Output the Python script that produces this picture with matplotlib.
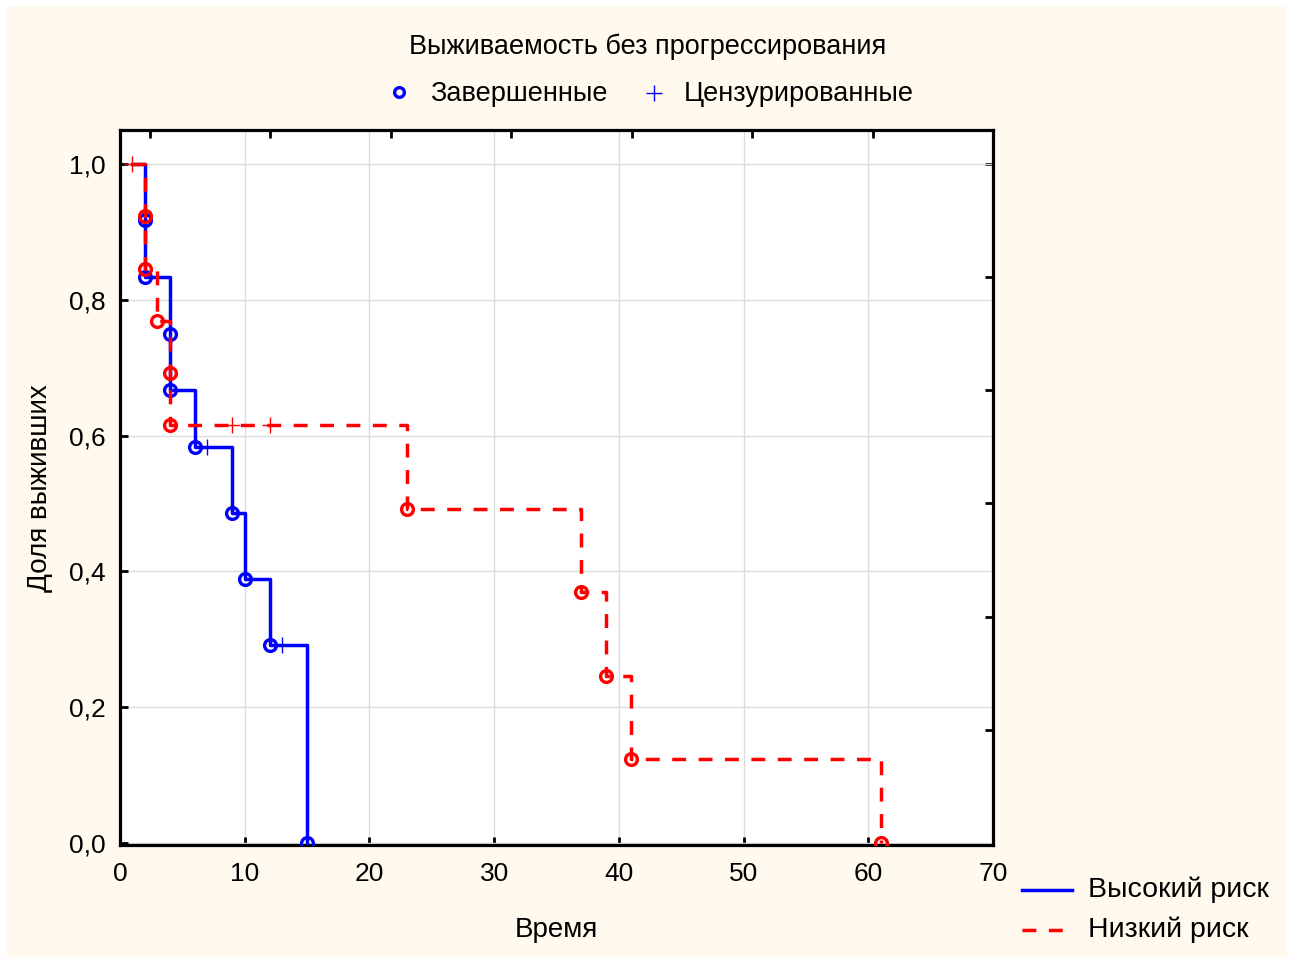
import matplotlib
matplotlib.use("Agg")
import matplotlib.pyplot as plt
from matplotlib.lines import Line2D
from matplotlib.patches import Rectangle
import numpy as np

plt.rcParams['font.family'] = ['Liberation Sans', 'DejaVu Sans']

# Высокий риск: ступенчатая кривая, события и цензурированные наблюдения
high_t = [1, 2, 4, 6, 9, 10, 12, 15]
high_s = [1.0, 0.833, 0.667, 0.583, 0.486, 0.389, 0.292, 0.0]
high_event_t = [2, 2, 4, 4, 6, 9, 10, 12, 15]
high_event_s = [0.917, 0.833, 0.750, 0.667, 0.583, 0.486, 0.389, 0.292, 0.0]
high_cens_t = [7, 13]
high_cens_s = [0.583, 0.292]

# Низкий риск
low_t = [1, 2, 3, 4, 23, 37, 39, 41, 61]
low_s = [1.0, 0.846, 0.769, 0.615, 0.492, 0.369, 0.246, 0.123, 0.0]
low_event_t = [2, 2, 3, 4, 4, 23, 37, 39, 41, 61]
low_event_s = [0.923, 0.846, 0.769, 0.692, 0.615, 0.492, 0.369, 0.246, 0.123, 0.0]
low_cens_t = [1, 9, 12]
low_cens_s = [1.0, 0.615, 0.615]

x_ticks = [0, 10, 20, 30, 40, 50, 60, 70]
y_ticks = [0.0, 0.2, 0.4, 0.6, 0.8, 1.0]

W, H = 1290, 958
BG = '#FFF9EE'
BLUE = '#0000FF'
RED = '#FF0000'
DASH = (0, (4.0, 3.6))


def fx(px):
    return px / W


def fy(py):
    return 1 - py / H


fig = plt.figure(figsize=(W / 100, H / 100), dpi=100, facecolor='white')
fig.add_artist(Rectangle((fx(7), fy(957)), fx(1287) - fx(7), fy(6) - fy(957),
                         transform=fig.transFigure, facecolor=BG, edgecolor='none', zorder=-10))

ax = fig.add_axes([fx(120), fy(845), fx(993) - fx(120), fy(130) - fy(845)])
ax.set_facecolor('white')
ax.set_xlim(0, 70)
ax.set_ylim(-0.003, 1.05)

ax.set_xticks(x_ticks)
ax.set_yticks(y_ticks)
ax.set_xticklabels([str(v) for v in x_ticks])
ax.set_yticklabels([f'{v:.1f}'.replace('.', ',') for v in y_ticks])
ax.tick_params(direction='in', length=6, width=2, labelsize=19, pad=10)
ax.tick_params(axis='x', pad=12)
for sp in ax.spines.values():
    sp.set_linewidth(2.3)

ax.grid(True, color='#dcdcdc', linewidth=1)
ax.set_axisbelow(True)

# дополнительные деления сверху и справа
top = ax.secondary_xaxis('top')
top.set_xticks(2.4 + 9.66 * np.arange(7))
top.tick_params(direction='in', length=6, width=2, labeltop=False)
right = ax.secondary_yaxis('right')
right.set_yticks(np.arange(1, 7) / 6)
right.tick_params(direction='in', length=6, width=2, labelright=False)

lw = 2.5
ax.plot(high_t, high_s, drawstyle='steps-post', color=BLUE, lw=lw, zorder=3)
ax.plot(high_event_t, high_event_s, 'o', ms=8.5, mfc='none', mec=BLUE, mew=2.4, zorder=4)
ax.plot(high_cens_t, high_cens_s, '+', ms=11, color=BLUE, mew=1, zorder=4)

ax.plot(low_t, low_s, drawstyle='steps-post', color=RED, lw=lw,
        linestyle=DASH, zorder=5)
ax.plot(low_event_t, low_event_s, 'o', ms=8.5, mfc='none', mec=RED, mew=2.4, zorder=6)
ax.plot(low_cens_t, low_cens_s, '+', ms=11, color=RED, mew=1, zorder=6)

fig.text(fx(556), fy(930), 'Время', ha='center', va='center', fontsize=20)
fig.text(fx(40), fy(488), 'Доля выживших', ha='center', va='center',
         rotation=90, fontsize=20)

# заголовок и легенда маркеров
fig.text(fx(648), fy(47), 'Выживаемость без прогрессирования', ha='center',
         va='center', fontsize=19.5)
fig.add_artist(Line2D([fx(399)], [fy(92)], marker='o', ms=7, mfc='none', mec=BLUE,
                      mew=2.4, transform=fig.transFigure))
fig.text(fx(430), fy(94), 'Завершенные', ha='left', va='center', fontsize=19.5)
fig.add_artist(Line2D([fx(654)], [fy(93)], marker='+', ms=11, color=BLUE,
                      mew=1, transform=fig.transFigure))
fig.text(fx(684), fy(94), 'Цензурированные', ha='left', va='center', fontsize=19.5)

# легенда групп
fig.add_artist(Line2D([fx(1022), fx(1072)], [fy(890), fy(890)], color=BLUE, lw=lw,
                      transform=fig.transFigure))
fig.text(fx(1088), fy(890), 'Высокий риск', ha='left', va='center', fontsize=20.5)
fig.add_artist(Line2D([fx(1022), fx(1072)], [fy(930), fy(930)], color=RED, lw=lw,
                      linestyle=DASH, transform=fig.transFigure))
fig.text(fx(1088), fy(930), 'Низкий риск', ha='left', va='center', fontsize=20.5)

fig.savefig('out.png', dpi=100, facecolor='white')
